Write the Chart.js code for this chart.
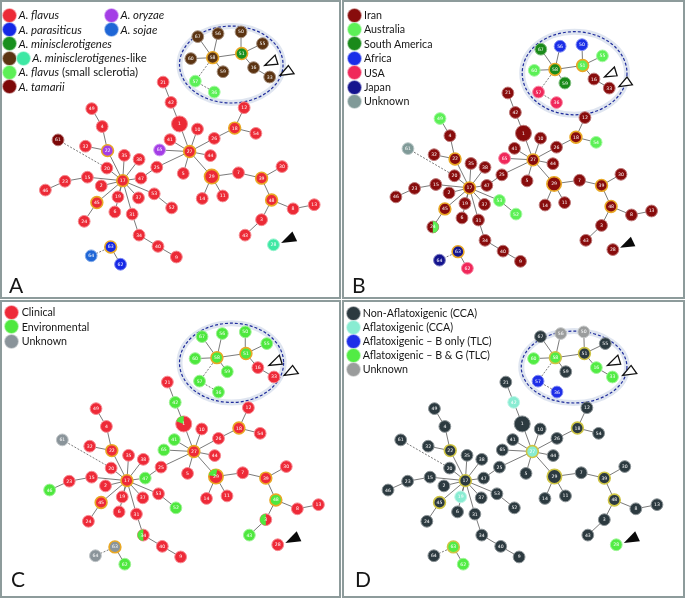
<!DOCTYPE html>
<html>
<head>
<meta charset="utf-8">
<script src="https://cdn.jsdelivr.net/npm/chart.js@4.4.0/dist/chart.umd.min.js"></script>
<style>
  body { margin: 0; background: #fff; width: 685px; height: 598px; position: relative; overflow: hidden;
         font-family: Lato, 'Open Sans', sans-serif; color: #161616; }
  .panel { position: absolute; border: 2px solid #8d9b9b; box-sizing: border-box; }
  canvas { position: absolute; }
  .leg { position: absolute; font-size: 10.7px; line-height: 14px; height: 14px; white-space: nowrap; z-index: 2; }
  .leg.sp { font-size: 11.4px; }
  .dot { position: absolute; width: 13px; height: 13px; border-radius: 50%; z-index: 2; }
  .letter { position: absolute; font-size: 21px; line-height: 21px; z-index: 2; }
</style>
</head>
<body>
<script>
// node label, x, y  (positions)
const nodes = [
  ['67',199.3,29.3], ['56',220.7,26], ['50',245,24.3], ['55',267.7,36.7], ['60',192,52.7], ['58',215,51.7],
  ['51',245.7,47.3], ['59',226,66.7], ['16',258.3,62.3], ['33',275.3,72.3], ['57',196.7,76.7], ['36',216.7,88.3],
  ['21',162.7,77.7], ['42',171,99.3], ['1',180,122.3], ['10',199,127.7], ['41',170,139], ['26',216.7,137.7],
  ['18',238.3,126.7], ['12',248.3,105], ['54',260.7,132.3], ['27',190.7,151.7], ['44',212.7,156], ['65',159,150],
  ['25',156,168.3], ['5',184,175], ['29',214,178.3], ['7',242.3,174.3], ['39',266.7,180], ['30',288.3,167.7],
  ['14',204,201.7], ['11',225.7,199], ['48',277.3,203.3], ['8',300,212.7], ['13',322.3,208.3], ['3',266.7,224.3],
  ['43',249.3,240.7], ['28',279.3,251],
  ['61',51.7,139.3], ['4',98.3,125], ['49',87.3,106], ['32',80.7,146], ['22',104,150.7], ['35',121.7,155.7],
  ['38',137.3,160], ['20',103.3,169.3], ['17',120,182.7], ['47',139.3,180], ['15',82.7,179], ['23',59,183.3],
  ['46',38.3,192.7], ['2',97.3,188.3], ['19',115,200], ['37',136.7,201], ['53',153.3,196.7], ['45',92.7,206],
  ['52',171.7,211.7], ['6',111.7,216], ['31',130,218.3], ['24',79.3,226], ['34',137.3,240.7], ['40',157.3,252.7],
  ['9',176.7,264], ['63',107.3,253.3], ['64',86.7,262.7], ['62',117.7,271.7]
];

const bigNodes = {'1': 8, '29': 7.2};
const hubs = ['17','27','29','18','39','48','45','22','58','51','63'];

const edges = [
  ['58','67'],['58','56'],['58','60'],['58','59'],['58','51'],['51','50'],['51','55'],['51','16'],['16','33'],
  ['27','1'],['1','42'],['42','21'],['27','41'],['27','10'],['27','65'],['27','25'],['27','5'],['27','44'],
  ['27','29'],['27','26'],['26','18'],['18','12'],['18','54'],['29','14'],['29','11'],['29','7'],['7','39'],
  ['39','30'],['39','48'],['48','8'],['8','13'],['48','3'],['3','43'],
  ['17','22'],['22','4'],['4','49'],['22','32'],['17','35'],['17','38'],['17','20'],['17','47'],['47','25'],
  ['17','15'],['15','23'],['23','46'],['17','2'],['17','19'],['17','37'],['17','53'],['53','52'],['17','45'],
  ['45','24'],['17','6'],['17','31'],['31','34'],['34','40'],['40','9'],['63','62']
];
const dashedEdges = [['58','57'],['57','36'],['61','20'],['63','64']];

// panel A: species
const speciesNames = ['A. flavus','A. parasiticus','A. minisclerotigenes','A. minisclerotigenes-like','A. flavus (small sclerotia)','A. tamarii','A. oryzae','A. sojae'];
const speciesColors = {fl:'#ec2a36', par:'#1528e6', mini:'#18901e', ml:'#5c3412', ml2:'#3ee8a4', small:'#5cf056', tam:'#7c0808', ory:'#a43ee6', soj:'#1f66d6'};
const speciesOf = {'61':'tam','22':'ory','65':'ory','63':'par','62':'par','64':'soj','28':'ml2',
  '67':'ml','56':'ml','50':'ml','55':'ml','60':'ml','58':'ml','59':'ml','16':'ml','33':'ml','51':'mini','57':'small','36':'small'};

// panel B: origin
const originNames = ['Iran','Australia','South America','Africa','USA','Japan','Unknown'];
const originColors = {iran:'#880c0c', aus:'#5cf056', sam:'#1a8a1a', afr:'#1a2ee8', usa:'#f0285a', jap:'#14148e', unk:'#809a98'};
const originOf = {'67':'sam','56':'afr','50':'afr','55':'aus','60':'aus','58':'sam','51':'aus','59':'sam','57':'usa','36':'usa',
  '49':'aus','61':'unk','65':'usa','53':'aus','52':'aus','24':'iran','63':'jap','64':'jap','62':'usa','54':'aus'};
const originSplit = [['24','aus',-90,90]];

// panel C: source
const sourceNames = ['Clinical','Environmental','Unknown'];
const sourceColors = {cli:'#ee2a38', env:'#4ee83e', unk:'#8a949a'};
const sourceOf = {'67':'env','56':'env','50':'env','55':'env','60':'env','58':'env','51':'env','59':'env','57':'env','36':'env',
  '42':'env','41':'env','65':'env','61':'unk','47':'env','46':'env','52':'env','48':'env','43':'env','63':'unk','64':'unk','62':'env'};
const sourceSplit = [['1','env',200,270],['29','env',190,280],['34','env',90,270],['3','env',90,270]];

// panel D: aflatoxin
const toxinNames = ['Non-Aflatoxigenic (CCA)','Aflatoxigenic (CCA)','Aflatoxigenic \u2013 B only (TLC)','Aflatoxigenic \u2013 B & G (TLC)','Unknown'];
const toxinColors = {non:'#2c3a40', cca:'#88ecd2', b:'#1e2ee8', bg:'#52ec44', unk:'#9a9c9c'};
const toxinOf = {'56':'unk','50':'unk','60':'bg','58':'bg','57':'b','36':'b','16':'bg','33':'bg',
  '42':'cca','27':'cca','19':'cca','63':'bg','62':'bg','28':'bg'};

const panelLetters = ['A','B','C','D'];

// panel frames: canvas rect and mapping abs = o + s * value
const panels = [
  {L:2,   T:2,   W:337, H:295, ox:0,     sx:1,      oy:0,    sy:1,      ell:[234.7,59,54.7,41]},
  {L:344, T:2,   W:339, H:295, ox:352.9, sx:0.9507, oy:14.5, sy:0.9625, ell:[236.8,55.9,58.2,46]},
  {L:2,   T:302, W:337, H:294, ox:4.5,   sx:1,      oy:300,  sy:1,      ell:[230.5,57.2,55,42.2]},
  {L:344, T:302, W:339, H:294, ox:342.7, sx:1,      oy:300,  sy:1,      ell:[234.8,61.7,55.8,38.3]}
];
const openArrows = [[[270,60],[281,49],[284,58.7]], [[286,70.7],[295,60],[301,68.7]]];
const filledArrow = [[287.3,249],[299.3,236.7],[304.3,247.3]];

function tint(hex, f) {
  const n = parseInt(hex.slice(1), 16);
  const r = (n >> 16) & 255, g = (n >> 8) & 255, b = n & 255;
  const m = c => Math.round(c + (255 - c) * f);
  return `rgb(${m(r)},${m(g)},${m(b)})`;
}

const overlay = {
  id: 'overlay',
  beforeDatasetsDraw(chart, args, opts) {
    const {ctx, scales: {x, y}} = chart;
    const e = opts.ellipse;
    const cx = x.getPixelForValue(e[0]), cy = y.getPixelForValue(e[1]);
    const rx = Math.abs(x.getPixelForValue(e[0] + e[2]) - cx);
    const ry = Math.abs(y.getPixelForValue(e[1] + e[3]) - cy);
    ctx.save();
    ctx.beginPath();
    ctx.ellipse(cx, cy, rx, ry, 0, 0, Math.PI * 2);
    ctx.strokeStyle = 'rgba(185,198,222,0.45)';
    ctx.lineWidth = 6;
    ctx.stroke();
    ctx.setLineDash([3, 2]);
    ctx.strokeStyle = '#1f2c9c';
    ctx.lineWidth = 1.2;
    ctx.stroke();
    ctx.restore();
  },
  afterDatasetsDraw(chart, args, opts) {
    const {ctx, scales: {x, y}} = chart;
    const meta = chart.getDatasetMeta(0);
    ctx.save();
    opts.splits.forEach(s => {
      const i = nodes.findIndex(n => n[0] === s[0]);
      const pt = meta.data[i];
      const r = pt.options.radius;
      ctx.beginPath();
      ctx.moveTo(pt.x, pt.y);
      ctx.arc(pt.x, pt.y, r, s[2] * Math.PI / 180, s[3] * Math.PI / 180);
      ctx.closePath();
      ctx.fillStyle = opts.palette[s[1]];
      ctx.fill();
    });
    ctx.fillStyle = '#fff';
    ctx.textAlign = 'center';
    ctx.textBaseline = 'middle';
    ctx.font = '4.6px "DejaVu Sans", sans-serif';
    meta.data.forEach((pt, i) => ctx.fillText(nodes[i][0], pt.x, pt.y + 0.3));

    const tri = (pts) => {
      ctx.beginPath();
      pts.forEach((p, k) => {
        const px = x.getPixelForValue(p[0]), py = y.getPixelForValue(p[1]);
        k ? ctx.lineTo(px, py) : ctx.moveTo(px, py);
      });
      ctx.closePath();
    };
    ctx.lineWidth = 1.3;
    ctx.strokeStyle = '#111';
    openArrows.forEach(a => { tri(a); ctx.fillStyle = '#fff'; ctx.fill(); ctx.stroke(); });
    tri(filledArrow);
    ctx.fillStyle = '#0a0a0a';
    ctx.fill();
    ctx.restore();
  }
};

function drawPanel(p, palette, groupOf, dflt, splits, ringColor) {
  const cv = document.createElement('canvas');
  cv.width = p.W; cv.height = p.H;
  cv.style.left = p.L + 'px'; cv.style.top = p.T + 'px';
  document.body.appendChild(cv);

  const pos = {};
  nodes.forEach(n => pos[n[0]] = {x: n[1], y: n[2]});
  const fills = nodes.map(n => palette[groupOf[n[0]] || dflt]);
  const nodeSet = {
    data: nodes.map(n => ({x: n[1], y: n[2]})),
    pointRadius: nodes.map(n => bigNodes[n[0]] || 5.9),
    pointBackgroundColor: fills,
    pointBorderColor: nodes.map((n, i) => hubs.includes(n[0]) ? ringColor : tint(fills[i], 0.45)),
    pointBorderWidth: nodes.map(n => hubs.includes(n[0]) ? 1.6 : 1),
    order: 0
  };
  const edgeSet = (e, dashed) => ({
    data: [pos[e[0]], pos[e[1]]],
    showLine: true,
    borderColor: '#6b6b6b',
    borderWidth: 0.9,
    borderDash: dashed ? [2, 1.5] : [],
    pointRadius: 0,
    order: 1
  });

  new Chart(cv, {
    type: 'scatter',
    data: {
      datasets: [nodeSet, ...edges.map(e => edgeSet(e, false)), ...dashedEdges.map(e => edgeSet(e, true))]
    },
    options: {
      responsive: false,
      animation: false,
      devicePixelRatio: 1,
      events: [],
      layout: {padding: 0},
      scales: {
        x: {type: 'linear', display: false, min: (p.L - p.ox) / p.sx, max: (p.L + p.W - p.ox) / p.sx},
        y: {type: 'linear', display: false, reverse: true, min: (p.T - p.oy) / p.sy, max: (p.T + p.H - p.oy) / p.sy}
      },
      plugins: {
        legend: {display: false},
        tooltip: {enabled: false},
        overlay: {ellipse: p.ell, splits: splits, palette: palette}
      }
    },
    plugins: [overlay]
  });
}

function addFrame(l, t, w, h) {
  const d = document.createElement('div');
  d.className = 'panel';
  Object.assign(d.style, {left: l + 'px', top: t + 'px', width: w + 'px', height: h + 'px'});
  document.body.appendChild(d);
}
function addDot(cx, cy, color) {
  const d = document.createElement('div');
  d.className = 'dot';
  Object.assign(d.style, {left: (cx - 6.5) + 'px', top: (cy - 6.5) + 'px', background: color,
    boxShadow: '0 0 0 0.8px ' + tint(color, 0.5)});
  document.body.appendChild(d);
}
function addText(x, cy, html, cls) {
  const s = document.createElement('div');
  s.className = 'leg' + (cls ? ' ' + cls : '');
  s.style.left = x + 'px';
  s.style.top = (cy - 7) + 'px';
  s.innerHTML = html;
  document.body.appendChild(s);
}
function addLetter(x, y, t) {
  const s = document.createElement('div');
  s.className = 'letter';
  s.style.left = x + 'px';
  s.style.top = y + 'px';
  s.textContent = t;
  document.body.appendChild(s);
}
const italicPart = name => name.replace(/^(A\. [a-z]+)/, '<i>$1</i>');

addFrame(0, 0, 341, 299);
addFrame(342, 0, 343, 299);
addFrame(0, 300, 341, 298);
addFrame(342, 300, 343, 298);

drawPanel(panels[0], speciesColors, speciesOf, 'fl', [], '#e9a825');
drawPanel(panels[1], originColors, originOf, 'iran', originSplit, '#e9a825');
drawPanel(panels[2], sourceColors, sourceOf, 'cli', sourceSplit, '#e9a825');
drawPanel(panels[3], toxinColors, toxinOf, 'non', [], '#cfc544');

// legend A
const specKeys = ['fl','par','mini','ml','small','tam'];
const rowsA = [15, 29.8, 43.8, 58, 72, 86.5];
specKeys.forEach((k, i) => addDot(9.5, rowsA[i], speciesColors[k]));
addDot(23.3, rowsA[3], speciesColors.ml2);
[0,1,2,3,4,5].forEach(i => addText(i === 3 ? 32.3 : 18.5, rowsA[i], italicPart(speciesNames[i]), 'sp'));
addDot(111, rowsA[0], speciesColors.ory);
addDot(111, rowsA[1], speciesColors.soj);
addText(120.5, rowsA[0], italicPart(speciesNames[6]), 'sp');
addText(120.5, rowsA[1], italicPart(speciesNames[7]), 'sp');

// legend B
const originKeys = ['iran','aus','sam','afr','usa','jap','unk'];
originNames.forEach((n, i) => { addDot(354, 15 + i * 14.4, originColors[originKeys[i]]); addText(364, 15 + i * 14.4, n); });
// legend C
const sourceKeys = ['cli','env','unk'];
sourceNames.forEach((n, i) => { addDot(11.7, 312.3 + i * 14.5, sourceColors[sourceKeys[i]]); addText(21.7, 312.3 + i * 14.5, n); });
// legend D
const toxinKeys = ['non','cca','b','bg','unk'];
toxinNames.forEach((n, i) => { addDot(353.7, 313.3 + i * 14, toxinColors[toxinKeys[i]]); addText(362.7, 313.3 + i * 14, n); });

addLetter(9, 274, panelLetters[0]);
addLetter(352, 274, panelLetters[1]);
addLetter(11, 568, panelLetters[2]);
addLetter(355, 568, panelLetters[3]);
</script>
</body>
</html>
